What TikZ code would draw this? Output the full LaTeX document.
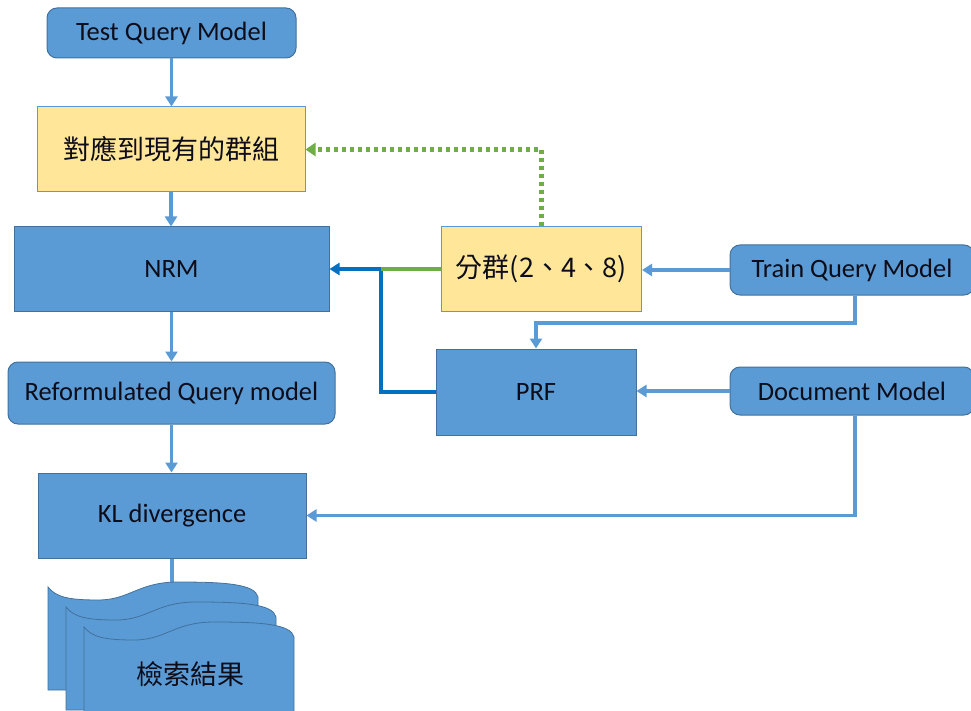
\documentclass[tikz,border=0pt]{standalone}
\usepackage{fontspec}
\setmainfont{Carlito}
\newfontfamily\cjk{Noto Sans CJK TC}
\usetikzlibrary{arrows.meta}
\definecolor{fillblue}{HTML}{5B9BD5}
\definecolor{edgeblue}{HTML}{41719C}
\definecolor{yel}{HTML}{FFE699}
\definecolor{darkblue}{HTML}{0070C0}
\definecolor{grn}{HTML}{70AD47}
\definecolor{txt}{HTML}{0D0D1A}
\tikzset{
  bluebox/.style={draw=edgeblue, fill=fillblue, line width=1pt, inner sep=0pt,
    text=txt, font=\fontsize{26.5}{30}\selectfont},
  roundbox/.style={bluebox, rounded corners=10pt},
  yelbox/.style={draw=fillblue, fill=yel, line width=1pt, inner sep=0pt,
    text=txt, font=\cjk\fontsize{27}{32}\selectfont},
  arr/.style={draw=fillblue, line width=3.5pt, -{Triangle[length=10pt,width=12pt]}},
  conn/.style={draw=fillblue, line width=3.5pt},
  darkarr/.style={draw=darkblue, line width=4pt, -{Triangle[length=10pt,width=12pt]}},
  dotarr/.style={draw=grn, line width=4.5pt, dash pattern=on 4pt off 4pt,
    -{Triangle[length=10pt,width=13pt]}},
  page/.style={fill=fillblue, draw=edgeblue, line width=0.8pt},
}
\begin{document}
\begin{tikzpicture}[x=1pt,y=-1pt]
\useasboundingbox (0,0) rectangle (971,711);
\clip (0,0) rectangle (971,711);

\node[roundbox, minimum width=249pt, minimum height=50pt] (tqm) at (171.5,33) {Test Query Model};
\node[yelbox, minimum width=268pt, minimum height=85pt] (map) at (171,149.5) {對應到現有的群組};
\node[bluebox, minimum width=315pt, minimum height=84pt] (nrm) at (171.5,269) {NRM};
\node[roundbox, minimum width=327pt, minimum height=62pt] (rqm) at (171.5,393) {Reformulated Query model};
\node[bluebox, minimum width=268pt, minimum height=85pt] (kl) at (172,515.5) {KL divergence};
\node[yelbox, minimum width=200pt, minimum height=85pt] (clu) at (541.5,269) {分群(2、4、8)};
\node[bluebox, minimum width=200pt, minimum height=86pt] (prf) at (536,392) {PRF};
\node[roundbox, minimum width=244pt, minimum height=50pt] (trq) at (852,270) {Train Query Model};
\node[roundbox, minimum width=244pt, minimum height=48pt] (doc) at (852,391) {Document Model};

% vertical chain
\draw[arr] (tqm.south) -- (tqm.south |- map.north);
\draw[arr] (map.south) -- (map.south |- nrm.north);
\draw[arr] (nrm.south) -- (rqm.north);
\draw[arr] (rqm.south) -- (rqm.south |- kl.north);

% right side inputs
\draw[arr] (trq.west) -- (trq.west -| clu.east);
\draw[arr] (doc.west) -- (doc.west -| prf.east);
\coordinate (tbend) at (536,323);
\draw[arr] ([xshift=3pt]trq.south) |- (tbend) -- (prf.north);
\draw[arr] ([xshift=3pt]doc.south) |- (kl.east);

% into NRM
\coordinate (join) at (381,269);
\draw[darkblue, line width=4pt] (prf.west) -| (join);
\draw[grn, line width=4pt] (clu.west) -- (join);
\draw[darkarr] (join) -- (nrm.east);

% dotted feedback
\draw[dotarr] (clu.north) |- (map.east);

% result stack
\coordinate (stacktop) at (172,592);
\draw[conn] (kl.south) -- (stacktop);
\foreach \dx/\dy in {0/0, 18/20, 36/40}{
  \filldraw[page] (48+\dx,587+\dy)
    .. controls (56+\dx,597+\dy) and (68+\dx,600+\dy) .. (98+\dx,600+\dy)
    .. controls (130+\dx,600+\dy) and (138+\dx,582+\dy) .. (178+\dx,582+\dy)
    .. controls (225+\dx,582+\dy) and (255+\dx,584+\dy) .. (258+\dx,597+\dy)
    -- (258+\dx,690+\dy) -- (48+\dx,690+\dy) -- cycle;
}
\node[text=txt, font=\cjk\fontsize{27}{32}\selectfont] (res) at (190,674) {檢索結果};
\end{tikzpicture}
\end{document}
